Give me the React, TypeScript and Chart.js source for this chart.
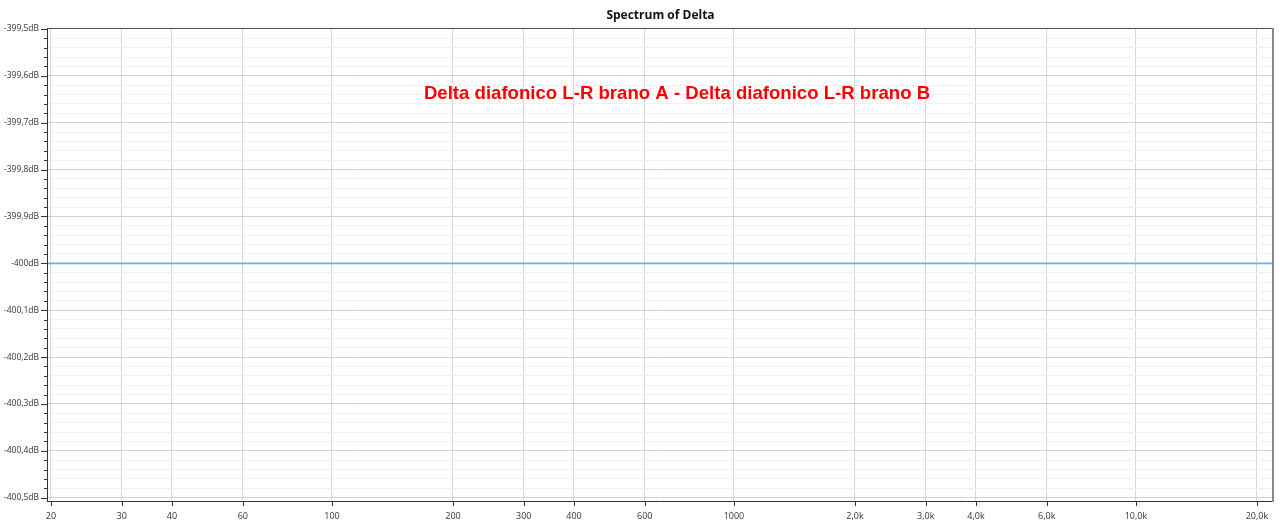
import React, { useEffect, useRef } from "react";
import { Chart, registerables } from "chart.js";

Chart.register(...registerables);

// Data
const frequencies = [19.55, 100, 1000, 10000, 22050];
const deltaDb = [-400, -400, -400, -400, -400];
const xTickValues = [20, 30, 40, 60, 100, 200, 300, 400, 600, 1000, 2000, 3000, 4000, 6000, 10000, 20000];
const yMajorTicks = [-400.5, -400.4, -400.3, -400.2, -400.1, -400.0, -399.9, -399.8, -399.7, -399.6, -399.5];
const yMinorStep = 0.02;
const chartTitle = "Spectrum of Delta";
const annotationText = "Delta diafonico L-R brano A - Delta diafonico L-R brano B";

const fmtX = (v: number) => {
  if (v < 2000) return String(v);
  return (v / 1000).toFixed(1).replace(".", ",") + "k";
};
const fmtY = (v: number) => {
  const r = Math.round(v * 10) / 10;
  let s = r.toFixed(1).replace(".", ",");
  if (s.endsWith(",0")) s = s.slice(0, -2);
  return s + "dB";
};

const isMajorY = (v: number) => yMajorTicks.some((m) => Math.abs(m - v) < 1e-6);

const buildYTicks = () => {
  const out: { value: number; major: boolean }[] = [];
  const start = yMajorTicks[0];
  const end = yMajorTicks[yMajorTicks.length - 1];
  const n = Math.round((end - start) / yMinorStep);
  for (let i = 0; i <= n; i++) {
    const v = Math.round((start + i * yMinorStep) * 1000) / 1000;
    out.push({ value: v, major: isMajorY(v) });
  }
  return out;
};

const decorPlugin = {
  id: "decor",
  afterDraw(chart: any) {
    const { ctx, chartArea } = chart;
    const { left, right, top, bottom } = chartArea;
    const xs = chart.scales.x;
    const ys = chart.scales.y;
    ctx.save();
    // Title
    ctx.fillStyle = "#111";
    ctx.font = "bold 12px 'Open Sans', sans-serif";
    ctx.textAlign = "center";
    ctx.textBaseline = "middle";
    ctx.fillText(chartTitle, (left + right) / 2, 15.5);
    // Annotation
    ctx.fillStyle = "#ff0000";
    ctx.font = "bold 18.6px 'Liberation Sans', Arial, sans-serif";
    ctx.textBaseline = "alphabetic";
    ctx.fillText(annotationText, 677, 98.5);
    // Borders
    ctx.lineWidth = 1;
    ctx.strokeStyle = "#555";
    ctx.beginPath();
    ctx.moveTo(left, top + 0.5);
    ctx.lineTo(right, top + 0.5);
    ctx.stroke();
    ctx.strokeStyle = "#333";
    ctx.beginPath();
    ctx.moveTo(left + 0.5, top);
    ctx.lineTo(left + 0.5, bottom);
    ctx.moveTo(left, bottom + 0.5);
    ctx.lineTo(right, bottom + 0.5);
    ctx.stroke();
    ctx.strokeStyle = "#888";
    ctx.lineWidth = 2;
    ctx.beginPath();
    ctx.moveTo(right - 1, top);
    ctx.lineTo(right - 1, bottom + 1);
    ctx.stroke();
    // Y ticks
    ctx.lineWidth = 1;
    ctx.strokeStyle = "#333";
    ctx.beginPath();
    for (const t of ys.ticks) {
      const y = Math.round(ys.getPixelForValue(t.value)) + 0.5;
      const len = t.major ? 6 : 3;
      ctx.moveTo(left - len, y);
      ctx.lineTo(left, y);
    }
    // X ticks
    for (const t of xs.ticks) {
      const x = Math.round(xs.getPixelForValue(t.value)) + 0.5;
      ctx.moveTo(x, bottom);
      ctx.lineTo(x, bottom + 5);
    }
    ctx.stroke();
    ctx.restore();
  },
};

export default function App() {
  const ref = useRef<HTMLCanvasElement>(null);
  useEffect(() => {
    document.body.style.margin = "0";
    const canvas = ref.current!;
    const chart = new Chart(canvas, {
      type: "line",
      data: {
        datasets: [
          {
            data: frequencies.map((f, i) => ({ x: f, y: deltaDb[i] })),
            borderColor: "#62b6ee",
            borderWidth: 1.8,
            pointRadius: 0,
            tension: 0,
          },
        ],
      },
      options: {
        animation: false,
        responsive: false,
        maintainAspectRatio: false,
        layout: { padding: { top: 28, right: 6, left: 0, bottom: 0 } },
        plugins: { legend: { display: false }, tooltip: { enabled: false }, title: { display: false } },
        scales: {
          x: {
            type: "logarithmic",
            min: 19.55,
            max: 22050,
            border: { display: false },
            grid: { color: "#d6d6d6", drawTicks: false },
            afterBuildTicks: (scale: any) => {
              scale.ticks = xTickValues.map((v) => ({ value: v }));
            },
            afterFit: (scale: any) => {
              scale.height = 26;
            },
            ticks: {
              autoSkip: false,
              maxRotation: 0,
              padding: 10,
              color: "#333",
              font: { family: "'Open Sans', sans-serif", size: 9 },
              callback: (v: any) => fmtX(Number(v)),
            },
          },
          y: {
            type: "linear",
            min: -400.507,
            max: -399.498,
            border: { display: false },
            grid: {
              drawTicks: false,
              color: (c: any) => (c.tick && c.tick.major ? "#d2d2d2" : "#f0f0f0"),
            },
            afterBuildTicks: (scale: any) => {
              scale.ticks = buildYTicks();
            },
            afterFit: (scale: any) => {
              scale.width = 47;
            },
            ticks: {
              autoSkip: false,
              padding: 8,
              color: "#333",
              font: { family: "'Open Sans', sans-serif", size: 8.5 },
              callback: (v: any) => (isMajorY(Number(v)) ? fmtY(Number(v)) : ""),
            },
          },
        },
      },
      plugins: [decorPlugin],
    });
    return () => chart.destroy();
  }, []);
  return <canvas ref={ref} width={1280} height={527} style={{ display: "block" }} />;
}
